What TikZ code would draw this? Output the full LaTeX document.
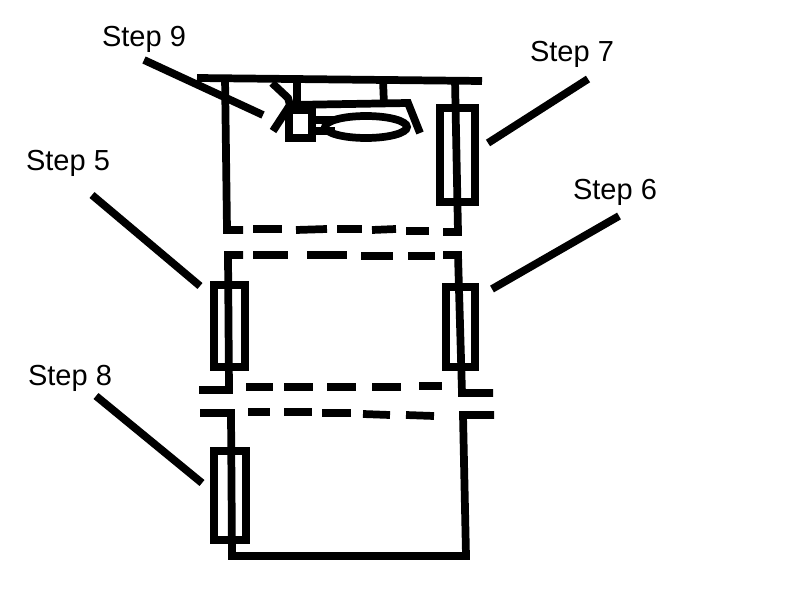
\documentclass[tikz,border=0pt]{standalone}
\usepackage{fontspec}
\setmainfont{Liberation Sans}
\tikzset{
	wire/.style={line width=2.2pt},
	fuse/.style={line width=2.2pt},
	steplabel/.style={inner sep=0pt, font=\fontsize{8.25}{10}\selectfont},
}

\begin{document}
\begin{tikzpicture}
		%%%%% START %%%%%
		\useasboundingbox (0, 0) rectangle (8, 6);
		
		% top section
		\draw[wire] (1.97, 5.22) -- (4.82, 5.19);
		\draw[wire] (2.25, 5.23) -- (2.27, 3.70) -- (2.43, 3.70);
		\draw[wire] (4.55, 5.20) -- (4.58, 3.68) -- (4.43, 3.68);
		\draw[wire] (2.53, 3.71) -- (2.82, 3.71);
		\draw[wire] (2.96, 3.70) -- (3.27, 3.71);
		\draw[wire] (3.37, 3.71) -- (3.62, 3.71);
		\draw[wire] (3.72, 3.70) -- (3.96, 3.71);
		\draw[wire] (4.06, 3.69) -- (4.29, 3.69);
		\draw[fuse] (4.40, 4.92) rectangle (4.75, 3.98);
		
		% lamp
		\draw[wire] (2.97, 5.20) -- (2.97, 4.95);
		\draw[wire] (3.83, 5.20) -- (3.84, 4.95);
		\draw[wire] (2.73, 4.69) -- (2.90, 4.95) -- (4.08, 4.97) -- (4.20, 4.67);
		\draw[wire] (2.72, 5.17) -- (2.88, 5.02) -- (2.90, 4.95);
		\draw[fuse] (2.89, 4.90) rectangle (3.12, 4.62);
		\draw[wire] (3.12, 4.80) -- (3.35, 4.80);
		\draw[wire] (3.12, 4.69) -- (3.35, 4.69);
		\draw[wire] (3.66, 4.73) ellipse (0.41 and 0.11);
		
		% middle section
		\draw[wire] (2.43, 3.45) -- (2.28, 3.45) -- (2.29, 2.10) -- (1.99, 2.10);
		\draw[wire] (4.43, 3.45) -- (4.58, 3.45) -- (4.62, 2.07) -- (4.93, 2.07);
		\draw[wire] (2.53, 3.45) -- (2.88, 3.45);
		\draw[wire] (3.07, 3.45) -- (3.47, 3.45);
		\draw[wire] (3.61, 3.44) -- (3.93, 3.44);
		\draw[wire] (4.08, 3.44) -- (4.35, 3.44);
		\draw[fuse] (2.14, 3.15) rectangle (2.45, 2.33);
		\draw[fuse] (4.46, 3.13) rectangle (4.75, 2.33);
		\draw[wire] (2.46, 2.13) -- (2.73, 2.13);
		\draw[wire] (2.84, 2.13) -- (3.13, 2.13);
		\draw[wire] (3.27, 2.13) -- (3.56, 2.13);
		\draw[wire] (3.72, 2.13) -- (4.01, 2.13);
		\draw[wire] (4.19, 2.14) -- (4.42, 2.14);
		
		% bottom section
		\draw[wire] (2.00, 1.87) -- (2.31, 1.87) -- (2.32, 0.44) -- (4.66, 0.44) -- (4.63, 1.85) -- (4.94, 1.85);
		\draw[wire] (2.48, 1.88) -- (2.70, 1.88);
		\draw[wire] (2.84, 1.88) -- (3.12, 1.88);
		\draw[wire] (3.22, 1.87) -- (3.51, 1.87);
		\draw[wire] (3.63, 1.86) -- (3.90, 1.85);
		\draw[wire] (4.06, 1.85) -- (4.34, 1.84);
		\draw[fuse] (2.14, 1.49) rectangle (2.46, 0.60);
		
		% labels
		\node[steplabel] (step9) at (1.44, 5.61) {Step 9};
		\node[steplabel] (step7) at (5.72, 5.46) {Step 7};
		\node[steplabel] (step5) at (0.68, 4.37) {Step 5};
		\node[steplabel] (step6) at (6.15, 4.08) {Step 6};
		\node[steplabel] (step8) at (0.70, 2.22) {Step 8};
		
		\draw[wire] (1.44, 5.40) -- (2.63, 4.85);
		\draw[wire] (5.88, 5.21) -- (4.88, 4.57);
		\draw[wire] (0.92, 4.05) -- (2.00, 3.14);
		\draw[wire] (6.19, 3.84) -- (4.92, 3.11);
		\draw[wire] (0.96, 2.04) -- (2.02, 1.17);
		%%%%% END %%%%%
	\end{tikzpicture}
\end{document}
